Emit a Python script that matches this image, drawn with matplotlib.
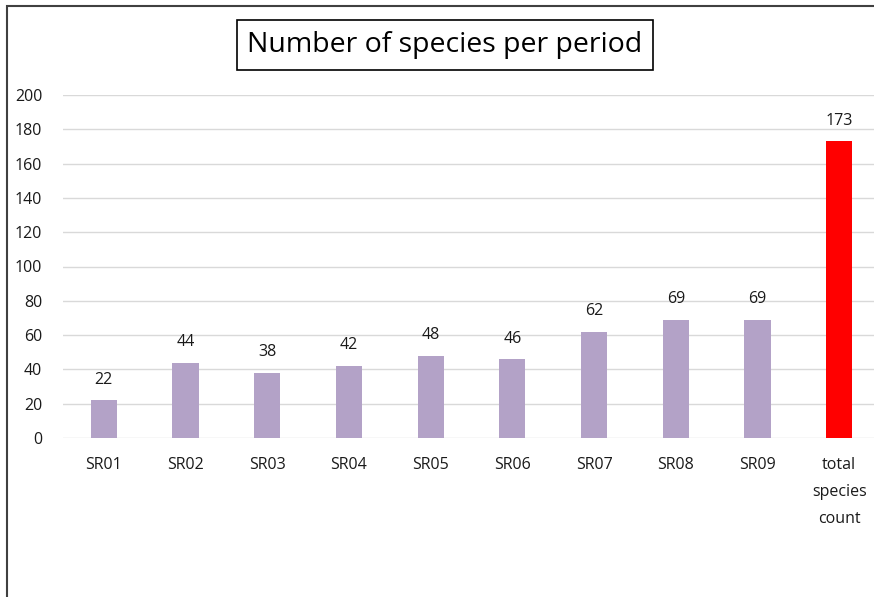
import matplotlib
matplotlib.use("Agg")
import matplotlib.pyplot as plt
from matplotlib.patches import Rectangle

categories = ["SR01", "SR02", "SR03", "SR04", "SR05", "SR06", "SR07", "SR08", "SR09",
              "total\nspecies\ncount"]
counts = [22, 44, 38, 42, 48, 46, 62, 69, 69, 173]
bar_colors = ["#B3A2C7"] * 9 + ["#FF0000"]
y_ticks = [0, 20, 40, 60, 80, 100, 120, 140, 160, 180, 200]

plt.rcParams["font.family"] = ["Open Sans", "DejaVu Sans"]

W, H = 874, 597
fig = plt.figure(figsize=(W / 100, H / 100), dpi=100)
fig.patch.set_facecolor("white")

# chart area border (runs off the right and bottom edges)
fig.add_artist(Rectangle((7 / W, -0.05), 1.2, (1 - 6 / H) + 0.05, transform=fig.transFigure,
                         fill=False, edgecolor="#404040", linewidth=1.5))

ax = fig.add_axes([63 / W, 1 - 438 / H, (880 - 63) / W, (438 - 95) / H])
x = range(len(categories))
ax.bar(x, counts, width=0.32, color=bar_colors, zorder=3)
for xi, v in zip(x, counts):
    ax.annotate(str(v), (xi, v), xytext=(0, 9), textcoords="offset points",
                ha="center", va="bottom", fontsize=11.5, color="#1a1a1a")

ax.set_xlim(-0.5, len(categories) - 0.5)
ax.set_ylim(0, 200)
ax.set_yticks(y_ticks)
ax.set_xticks(list(x))
ax.set_xticklabels(categories, linespacing=1.9, va="top")
ax.tick_params(axis="both", length=0, labelsize=11.5, labelcolor="#1a1a1a")
ax.tick_params(axis="y", pad=15)
ax.tick_params(axis="x", pad=14)
ax.grid(axis="y", color="#D9D9D9", linewidth=1.0, zorder=0)
for s in ax.spines.values():
    s.set_visible(False)

fig.text(445 / W, 1 - 45 / H, "Number of species per period", ha="center", va="center",
         fontsize=20.5, color="black",
         bbox=dict(boxstyle="square,pad=0.38", facecolor="white", edgecolor="black", linewidth=1.2))

fig.savefig("out.png", dpi=100, facecolor="white")
